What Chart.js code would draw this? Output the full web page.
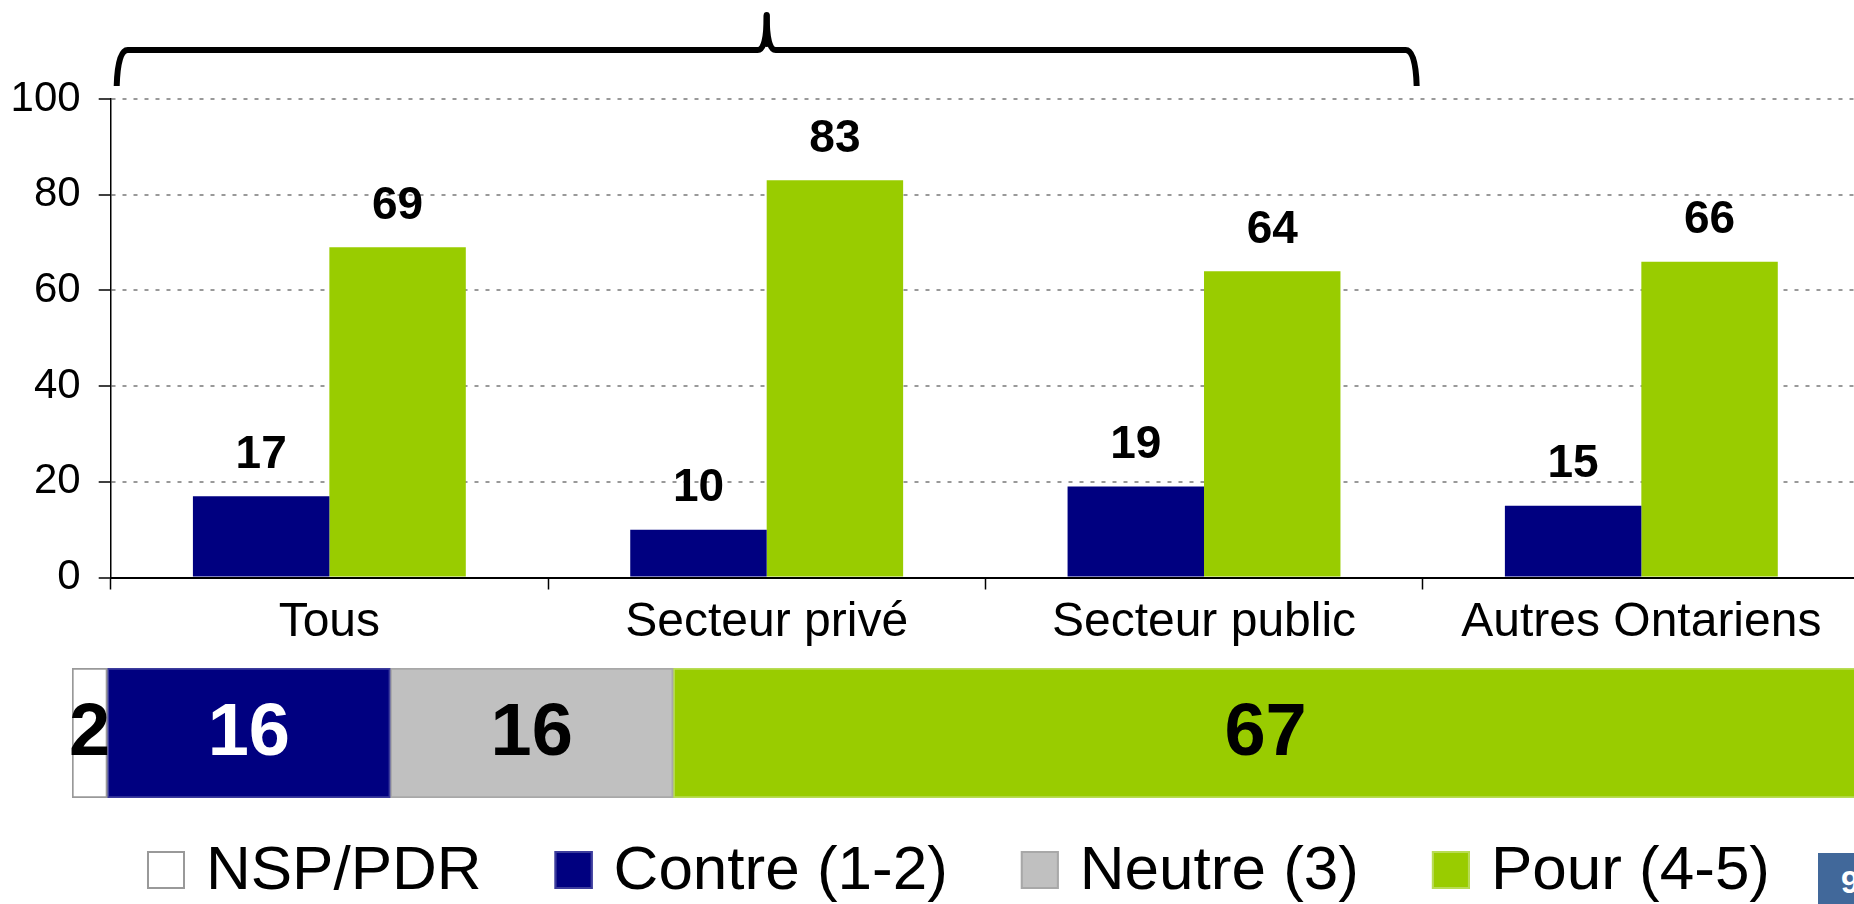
<!DOCTYPE html>
<html>
<head>
<meta charset="utf-8">
<script src="https://cdn.jsdelivr.net/npm/chart.js@4.4.1/dist/chart.umd.min.js"></script>
<style>
  html, body { margin: 0; padding: 0; background: #fff; }
  #wrap { position: relative; width: 1854px; height: 904px; overflow: hidden; }
  #topChart { position: absolute; left: 0; top: 0; }
  #bottomChart { position: absolute; left: 0; top: 640px; }
  #page {
    position: absolute; left: 1818px; top: 853px; width: 60px; height: 60px;
    background: #41689a; color: #fff; box-sizing: border-box; padding-left: 23px;
    font: bold 32px 'Liberation Sans', Arial, sans-serif; line-height: 58px;
  }
</style>
</head>
<body>
<div id="wrap">
  <canvas id="topChart" width="1862" height="680"></canvas>
  <canvas id="bottomChart" width="1858" height="264"></canvas>
  <div id="page">9</div>
</div>
<script>
// valeurs
const categories = ['Tous', 'Secteur privé', 'Secteur public', 'Autres Ontariens'];
const contre = [17, 10, 19, 15];
const pour = [69, 83, 64, 66];

const totalLabels = ['NSP/PDR', 'Contre (1-2)', 'Neutre (3)', 'Pour (4-5)'];
const totalValues = [2, 16, 16, 67];

const FONT = "'Liberation Sans', Arial, sans-serif";
const NAVY = '#000080';
const GREEN = '#99CC00';
const GREY = '#C0C0C0';

const totalColors = ['#FFFFFF', NAVY, GREY, GREEN];
const totalBorders = ['#999999', '#3c3c9c', '#a8a8a8', '#b8dc55'];
const totalTextColors = ['#000', '#fff', '#000', '#000'];

// chiffres au-dessus des barres
const barLabels = {
  id: 'barLabels',
  afterDatasetsDraw(chart) {
    const ctx = chart.ctx;
    ctx.save();
    ctx.font = 'bold 46px ' + FONT;
    ctx.fillStyle = '#000';
    ctx.textAlign = 'center';
    ctx.textBaseline = 'middle';
    chart.data.datasets.forEach((ds, i) => {
      chart.getDatasetMeta(i).data.forEach((bar, j) => {
        ctx.fillText(ds.data[j], bar.x, bar.y - 41);
      });
    });
    ctx.restore();
  }
};

// accolade au-dessus des trois premiers groupes
const brace = {
  id: 'brace',
  afterDraw(chart) {
    const x = chart.scales.x, y = chart.scales.y;
    const ctx = chart.ctx;
    const left = x.left + 6;
    const right = (x.getPixelForValue(2) + x.getPixelForValue(3)) / 2 - 6;
    const mid = (left + right) / 2;
    const base = y.getPixelForValue(100) - 13;
    const line = base - 36;
    const tip = line - 38;
    ctx.save();
    ctx.strokeStyle = '#000';
    ctx.lineWidth = 6;
    ctx.lineJoin = 'round';
    ctx.beginPath();
    ctx.moveTo(left, base);
    ctx.quadraticCurveTo(left + 1, line, left + 11, line);
    ctx.lineTo(mid - 9, line);
    ctx.quadraticCurveTo(mid, line, mid, tip + 4);
    ctx.quadraticCurveTo(mid, line, mid + 9, line);
    ctx.lineTo(right - 11, line);
    ctx.quadraticCurveTo(right - 1, line, right, base);
    ctx.stroke();
    ctx.lineCap = 'round';
    ctx.beginPath();
    ctx.moveTo(mid, line - 6);
    ctx.lineTo(mid, tip + 3);
    ctx.stroke();
    ctx.restore();
  }
};

new Chart(document.getElementById('topChart'), {
  type: 'bar',
  data: {
    labels: categories,
    datasets: [
      { label: 'Contre (1-2)', data: contre, backgroundColor: NAVY },
      { label: 'Pour (4-5)', data: pour, backgroundColor: GREEN }
    ]
  },
  options: {
    responsive: false,
    animation: false,
    datasets: { bar: { categoryPercentage: 0.624, barPercentage: 1 } },
    layout: { padding: { top: 99, right: 2, left: 0, bottom: 0 } },
    scales: {
      x: {
        grid: { drawOnChartArea: false, tickLength: 12, tickColor: '#000', tickWidth: 1.5 },
        border: { color: '#000', width: 2 },
        ticks: { color: '#000', padding: 4, maxRotation: 0, font: { size: 48, family: FONT } },
        afterFit(s) { s.height = 102.5; }
      },
      y: {
        min: 0,
        max: 100,
        ticks: { stepSize: 20, color: '#000', padding: 18, font: { size: 42, family: FONT } },
        grid: {
          color: c => (c.tick && c.tick.value === 0) ? 'rgba(0,0,0,0)' : '#999999',
          lineWidth: 2, tickLength: 12, tickColor: '#000', tickWidth: 1.5
        },
        border: { color: '#000', width: 1.5, dash: [4, 7] },
        afterFit(s) { s.width = 110.7; }
      }
    },
    plugins: { legend: { display: false }, tooltip: { enabled: false } }
  },
  plugins: [barLabels, brace]
});

// chiffres dans la barre empilée
const segLabels = {
  id: 'segLabels',
  afterDatasetsDraw(chart) {
    const ctx = chart.ctx;
    ctx.save();
    ctx.font = 'bold 74px ' + FONT;
    ctx.textAlign = 'center';
    ctx.textBaseline = 'middle';
    chart.data.datasets.forEach((ds, i) => {
      const bar = chart.getDatasetMeta(i).data[0];
      ctx.fillStyle = totalTextColors[i];
      ctx.fillText(ds.data[0], (bar.x + bar.base) / 2, bar.y + 2);
    });
    ctx.restore();
  }
};

// légende sous la barre empilée
const legendRow = {
  id: 'legendRow',
  afterDraw(chart) {
    const ctx = chart.ctx;
    const area = chart.chartArea;
    const box = 38, gap = 21, spacing = 73;
    ctx.save();
    ctx.font = '62px ' + FONT;
    const items = chart.data.datasets.map(ds => ({ ds, w: ctx.measureText(ds.label).width }));
    const total = items.reduce((s, it) => s + box + gap + it.w, 0) + spacing * (items.length - 1);
    let x = (chart.scales.y.left + area.right) / 2 - total / 2;
    const y = area.bottom + 72;
    ctx.textBaseline = 'middle';
    ctx.textAlign = 'left';
    items.forEach(it => {
      ctx.fillStyle = it.ds.backgroundColor;
      ctx.fillRect(x, y - box / 2, box, box);
      ctx.lineWidth = 2;
      ctx.strokeStyle = it.ds.borderColor;
      ctx.strokeRect(x + 1, y - box / 2 + 1, box - 2, box - 2);
      ctx.fillStyle = '#000';
      ctx.fillText(it.ds.label, x + box + gap, y + 2);
      x += box + gap + it.w + spacing;
    });
    ctx.restore();
  }
};

new Chart(document.getElementById('bottomChart'), {
  type: 'bar',
  data: {
    labels: ['Total'],
    datasets: totalLabels.map((l, i) => ({
      label: l,
      data: [totalValues[i]],
      backgroundColor: totalColors[i],
      borderColor: totalBorders[i],
      borderWidth: 2,
      borderSkipped: false,
      barPercentage: 1,
      categoryPercentage: 1
    }))
  },
  options: {
    indexAxis: 'y',
    responsive: false,
    animation: false,
    layout: { padding: { left: 59, top: 28, right: 0, bottom: 106 } },
    scales: {
      x: { stacked: true, display: false, min: 0, max: 101 },
      y: {
        stacked: true,
        grid: { display: false },
        border: { display: false },
        ticks: { display: false },
        afterFit(s) { s.width = 13; }
      }
    },
    plugins: { legend: { display: false }, tooltip: { enabled: false } }
  },
  plugins: [segLabels, legendRow]
});
</script>
</body>
</html>
